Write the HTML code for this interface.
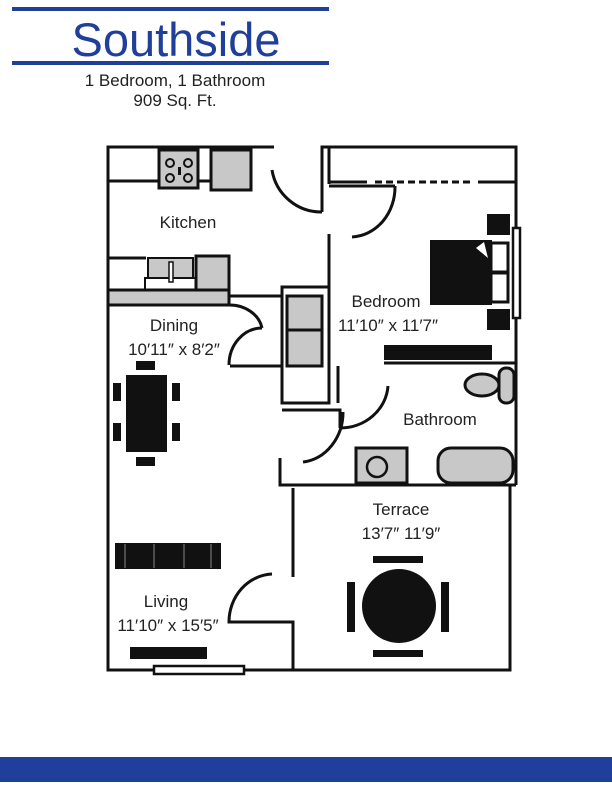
<!DOCTYPE html>
<html><head><style>
html,body{margin:0;padding:0;background:#fff;width:612px;height:792px;overflow:hidden}
svg{display:block}
text{font-family:"Liberation Sans",sans-serif;fill:#222}
</style></head><body>
<svg width="612" height="792" viewBox="0 0 612 792" xmlns="http://www.w3.org/2000/svg">
<rect x="12" y="7" width="317" height="4" fill="#1f3f9a"/>
<rect x="12" y="61" width="317" height="4" fill="#1f3f9a"/>
<text x="176" y="56" font-size="47" text-anchor="middle" style="fill:#1f3f9a">Southside</text>
<text x="175" y="86" font-size="17" text-anchor="middle">1 Bedroom, 1 Bathroom</text>
<text x="175" y="106" font-size="17" text-anchor="middle">909 Sq. Ft.</text>
<rect x="0" y="757" width="612" height="25" fill="#1f3f9a"/>

<g stroke="#111" stroke-width="3" fill="none">
<path d="M274 147 H108 V670 H293"/>
<path d="M322 212 V147 H516 V485"/>
<path d="M329 147 V184"/>
<path d="M272 170 A50 50 0 0 0 322 212"/>
<path d="M329 182 H367" />
<path d="M375 182 H472" stroke-dasharray="7,4"/>
<path d="M478 182 H516"/>
<path d="M329 186 H395"/>
<path d="M395 186 A45 50 0 0 1 352 237"/>
<path d="M329 234 V403 H282 V287 H329"/>
<path d="M282 287 V296 H230"/>
<path d="M230 366 H282"/>
<path d="M282 410 H340 V428"/>
<path d="M338 366 V403"/>
<path d="M388 386 A48 45 0 0 1 340 428"/>
<path d="M343 412 A45 50 0 0 1 303 462"/>
<path d="M280 458 V485 H516"/>
<path d="M384 363 H516"/>
<path d="M229 305 A33 28 0 0 1 262 328"/>
<path d="M262 328 A33 37 0 0 0 229 365"/>
<path d="M293 488 V577"/>
<path d="M272 574 A45 48 0 0 0 229 622 H293 V670 H510 V485"/>
<path d="M108 181 H159 M198 181 H211"/>
<path d="M108 258 H146"/>
</g>

<rect x="159" y="150" width="39" height="38" fill="#c8c8c8" stroke="#111" stroke-width="3"/>
<g fill="none" stroke="#111" stroke-width="2">
<circle cx="170" cy="163" r="4"/><circle cx="170" cy="178" r="4"/>
<circle cx="188" cy="163" r="4"/><circle cx="188" cy="178" r="4"/>
</g>
<rect x="178" y="167" width="3" height="8" fill="#111"/>
<rect x="211" y="150" width="40" height="40" fill="#c8c8c8" stroke="#111" stroke-width="3"/>
<rect x="148" y="258" width="45" height="20" fill="#c8c8c8" stroke="#111" stroke-width="2"/>
<rect x="145" y="278" width="51" height="12" fill="#fff" stroke="#111" stroke-width="2"/>
<rect x="169" y="262" width="4" height="20" fill="#fff" stroke="#111" stroke-width="1.5"/>
<rect x="196" y="256" width="33" height="34" fill="#c8c8c8" stroke="#111" stroke-width="3"/>
<rect x="108" y="290" width="121" height="15" fill="#c8c8c8" stroke="#111" stroke-width="3"/>
<text x="188" y="228" font-size="17" text-anchor="middle">Kitchen</text>

<rect x="287" y="296" width="35" height="34" fill="#c8c8c8" stroke="#111" stroke-width="3"/>
<rect x="287" y="330" width="35" height="36" fill="#c8c8c8" stroke="#111" stroke-width="3"/>

<rect x="487" y="214" width="23" height="21" fill="#111"/>
<rect x="487" y="309" width="23" height="21" fill="#111"/>
<rect x="430" y="240" width="62" height="65" fill="#111"/>
<rect x="491" y="243" width="17" height="29" fill="#fff" stroke="#111" stroke-width="3"/>
<rect x="491" y="273" width="17" height="29" fill="#fff" stroke="#111" stroke-width="3"/>
<path d="M476 248 L484 242 L488 258 Z" fill="#fff"/>
<rect x="513" y="228" width="7" height="90" fill="#fff" stroke="#111" stroke-width="2.5"/>
<rect x="384" y="345" width="108" height="15" fill="#111"/>
<text x="386" y="307" font-size="17" text-anchor="middle">Bedroom</text>
<text x="388" y="331" font-size="17" text-anchor="middle">11′10″ x 11′7″</text>

<rect x="499" y="368" width="15" height="35" rx="7" fill="#c8c8c8" stroke="#111" stroke-width="3"/>
<ellipse cx="482" cy="385" rx="17" ry="11" fill="#c8c8c8" stroke="#111" stroke-width="3"/>
<rect x="356" y="448" width="51" height="35" fill="#c8c8c8" stroke="#111" stroke-width="3"/>
<circle cx="377" cy="467" r="10" fill="none" stroke="#111" stroke-width="2.5"/>
<rect x="438" y="448" width="75" height="35" rx="13" fill="#c8c8c8" stroke="#111" stroke-width="3"/>
<text x="440" y="425" font-size="17" text-anchor="middle">Bathroom</text>

<rect x="126" y="375" width="41" height="77" fill="#111"/>
<rect x="136" y="361" width="19" height="9" fill="#111"/>
<rect x="136" y="457" width="19" height="9" fill="#111"/>
<rect x="113" y="383" width="8" height="18" fill="#111"/>
<rect x="113" y="423" width="8" height="18" fill="#111"/>
<rect x="172" y="383" width="8" height="18" fill="#111"/>
<rect x="172" y="423" width="8" height="18" fill="#111"/>
<text x="174" y="331" font-size="17" text-anchor="middle">Dining</text>
<text x="174" y="355" font-size="17" text-anchor="middle">10′11″ x 8′2″</text>

<rect x="115" y="543" width="106" height="26" fill="#111"/>
<g stroke="#888" stroke-width="1"><path d="M125 544 V568 M154 544 V568 M184 544 V568 M211 544 V568"/></g>
<rect x="130" y="647" width="77" height="12" fill="#111"/>
<rect x="154" y="666" width="90" height="8" fill="#fff" stroke="#111" stroke-width="2.5"/>
<text x="166" y="607" font-size="17" text-anchor="middle">Living</text>
<text x="168" y="631" font-size="17" text-anchor="middle">11′10″ x 15′5″</text>

<circle cx="399" cy="606" r="37" fill="#111"/>
<rect x="373" y="556" width="50" height="7" fill="#111"/>
<rect x="373" y="650" width="50" height="7" fill="#111"/>
<rect x="347" y="582" width="8" height="50" fill="#111"/>
<rect x="441" y="582" width="8" height="50" fill="#111"/>
<text x="401" y="515" font-size="17" text-anchor="middle">Terrace</text>
<text x="401" y="539" font-size="17" text-anchor="middle">13′7″ 11′9″</text>
</svg>
</body></html>
